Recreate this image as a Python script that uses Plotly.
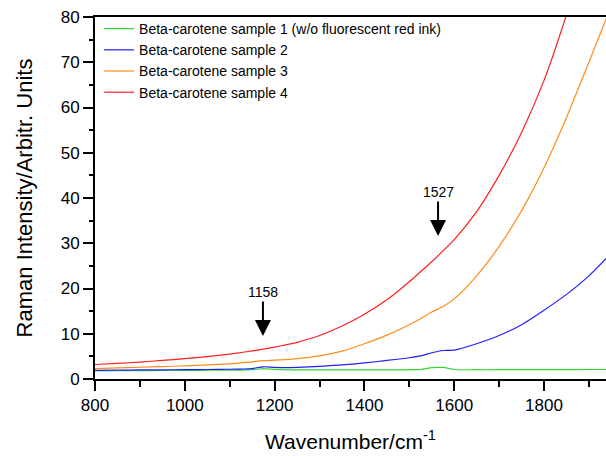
import plotly.graph_objects as go

# Wavenumber sampling (cm^-1) shared by all four spectra
wavenumber = [800, 850, 900, 950, 1000, 1050, 1100, 1125, 1150, 1175, 1200, 1225,
              1250, 1300, 1350, 1400, 1450, 1500, 1525, 1550, 1575, 1600, 1650,
              1700, 1750, 1800, 1850, 1900, 1940]

sample1 = [1.8, 1.82, 1.85, 1.88, 1.9, 1.93, 1.96, 1.98, 2.05, 2.3, 2.12, 2.02,
           2.0, 2.0, 2.0, 2.0, 2.02, 2.05, 2.1, 2.5, 2.55, 2.1, 2.05,
           2.05, 2.05, 2.07, 2.08, 2.1, 2.1]
sample2 = [1.9, 1.95, 2.0, 2.03, 2.06, 2.1, 2.15, 2.2, 2.3, 2.7, 2.55, 2.5,
           2.55, 2.8, 3.1, 3.55, 4.1, 4.7, 5.1, 5.8, 6.3, 6.4, 7.8,
           9.6, 12.0, 15.2, 18.7, 22.8, 26.8]
sample3 = [2.3, 2.45, 2.6, 2.75, 2.9, 3.1, 3.35, 3.55, 3.8, 4.05, 4.15, 4.3,
           4.5, 5.1, 6.15, 7.8, 9.7, 12.0, 13.3, 14.8, 16.0, 17.7, 22.8,
           29.3, 37.2, 46.7, 57.8, 70.0, 80.0]
sample4 = [3.2, 3.45, 3.75, 4.1, 4.5, 4.95, 5.5, 5.85, 6.2, 6.6, 7.05, 7.55,
           8.1, 9.6, 11.7, 14.3, 17.5, 21.5, 23.7, 25.9, 28.3, 30.8, 37.0,
           45.0, 54.5, 66.0, 80.5, 97.0, 111.0]

names = ["Beta-carotene sample 1 (w/o fluorescent red ink)",
         "Beta-carotene sample 2",
         "Beta-carotene sample 3",
         "Beta-carotene sample 4"]
colors = ["#33d633", "#1f1fff", "#ff8c1a", "#ff1f1f"]

# Marked Raman bands: arrow position on the axis, arrow tip height, label
band_pos = [1174, 1564]
band_tip = [9.5, 31.6]
band_labels = ["1158", "1527"]

fig = go.Figure()
for ys, name, col in zip([sample1, sample2, sample3, sample4], names, colors):
    fig.add_trace(go.Scatter(x=wavenumber, y=ys, mode="lines", name=name,
                             line=dict(color=col, width=1.2, shape="spline", smoothing=0.7)))

for xp, yp, lab in zip(band_pos, band_tip, band_labels):
    fig.add_annotation(x=xp, y=yp, ax=0, ay=-44, text=lab, showarrow=True,
                       arrowhead=2, arrowsize=1.6, arrowwidth=2, arrowcolor="black",
                       font=dict(family="Liberation Sans, Arial", size=14, color="black"))

fig.update_layout(
    width=606, height=456,
    margin=dict(l=95, r=0, t=17, b=77),
    paper_bgcolor="white", plot_bgcolor="white",
    font=dict(family="Liberation Sans, Arial", color="black"),
    showlegend=True,
    legend=dict(x=0.008, y=1.011, xanchor="left", yanchor="top",
                font=dict(size=14, color="black"), bgcolor="rgba(0,0,0,0)",
                tracegroupgap=0, itemwidth=30),
    xaxis=dict(range=[800, 1938], dtick=200, tick0=800, ticks="outside", ticklen=10,
               tickwidth=2, tickcolor="black", showline=True, linewidth=2, linecolor="black",
               mirror=True, showgrid=False, zeroline=False,
               tickfont=dict(size=17),
               minor=dict(dtick=100, ticks="outside", ticklen=6, tickwidth=2, tickcolor="black"),
               title=dict(text="Wavenumber/cm<sup>-1</sup>", font=dict(size=21), standoff=20)),
    yaxis=dict(range=[0, 80], dtick=10, ticks="outside", ticklen=10, tickwidth=2,
               tickcolor="black", showline=True, linewidth=2, linecolor="black",
               mirror=False, showgrid=False, zeroline=False,
               tickfont=dict(size=17),
               minor=dict(dtick=5, ticks="outside", ticklen=4, tickwidth=2, tickcolor="black"),
               title=dict(text="Raman Intensity/Arbitr. Units", font=dict(size=22), standoff=22)),
)

fig.write_html("out.html")
